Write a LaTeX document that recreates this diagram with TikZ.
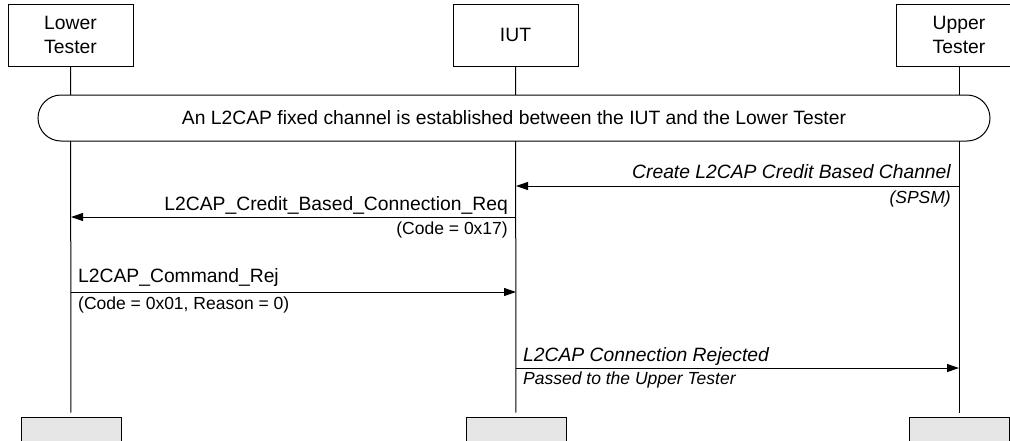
\documentclass[tikz,border=0pt]{standalone}
\usepackage{fontspec}
\setmainfont{Liberation Sans}
\usetikzlibrary{arrows.meta}
\definecolor{footgray}{HTML}{E6E6E6}
\begin{document}
\begin{tikzpicture}[x=1pt,y=-1pt,
  big/.style={font=\fontsize{19.3}{23.5}\selectfont},
  small/.style={font=\fontsize{17.5}{21}\selectfont},
  hdr/.style={draw, line width=1pt, minimum width=125pt, minimum height=62pt, align=center, inner sep=0pt, big},
  foot/.style={draw, line width=1pt, fill=footgray, minimum width=100pt, minimum height=40pt, inner sep=0pt},
  life/.style={line width=1pt, shorten >=4pt},
  msg/.style={line width=1pt, -{Triangle[length=12pt,width=8pt]}},
  lbl/.style={inner sep=0pt, big},
  sub/.style={inner sep=0pt, small}]
\useasboundingbox (0,0) rectangle (1010,440);
\clip (0,0) rectangle (1010,440);
% header boxes
\node[hdr] (lt) at (70.5,35) {Lower\\Tester};
\node[hdr] (iut) at (515.5,35) {IUT};
\node[hdr] (ut) at (959,35) {Upper\\Tester};
% footer boxes
\node[foot] (ltb) at (71,437) {};
\node[foot] (iutb) at (516,437) {};
\node[foot] (utb) at (959,437) {};
% lifelines
\draw[life] (lt.south) -- (ltb.north);
\draw[life] (iut.south) -- (iutb.north);
\draw[life] (ut.south) -- (utb.north);
% banner
\node[draw, line width=1pt, fill=white, rounded corners=23pt, minimum width=952pt, minimum height=46pt, inner sep=0pt, big] (banner) at (514,118) {An L2CAP fixed channel is established between the IUT and the Lower Tester};
% message 1
\coordinate (m1s) at (959,186);
\coordinate (m1e) at (516,186);
\draw[msg] (m1s) -- (m1e);
\node[lbl, anchor=base east] (m1a) at (951,178) {\itshape Create L2CAP Credit Based Channel};
\node[sub, anchor=base east] (m1b) at (951,203) {\itshape (SPSM)};
% message 2
\coordinate (m2s) at (516,217);
\coordinate (m2e) at (71,217);
\draw[msg] (m2s) -- (m2e);
\node[lbl, anchor=base east] (m2a) at (508,210) {L2CAP\_Credit\_Based\_Connection\_Req};
\node[sub, anchor=base east] (m2b) at (508,234) {(Code = 0x17)};
% message 3
\coordinate (m3s) at (71,292);
\coordinate (m3e) at (516,292);
\draw[msg] (m3s) -- (m3e);
\node[lbl, anchor=base west] (m3a) at (78,282) {L2CAP\_Command\_Rej};
\node[sub, anchor=base west] (m3b) at (78,309) {(Code = 0x01, Reason = 0)};
% message 4
\coordinate (m4s) at (516,368);
\coordinate (m4e) at (959,368);
\draw[msg] (m4s) -- (m4e);
\node[lbl, anchor=base west] (m4a) at (523,361) {\itshape L2CAP Connection Rejected};
\node[sub, anchor=base west] (m4b) at (523,384) {\itshape Passed to the Upper Tester};
\end{tikzpicture}
\end{document}
